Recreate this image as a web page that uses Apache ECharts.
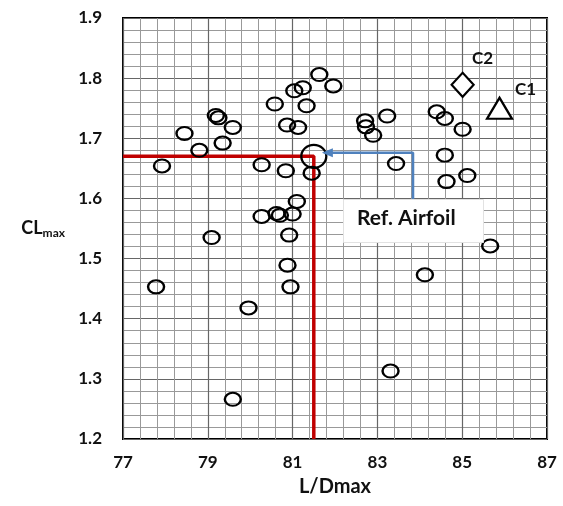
<!DOCTYPE html>
<html>
<head>
<meta charset="utf-8">
<script src="https://cdn.jsdelivr.net/npm/echarts@6/dist/echarts.min.js"></script>
<style>
  html, body { margin: 0; padding: 0; background: #fff; }
  #chart { width: 563px; height: 506px; }
</style>
</head>
<body>
<div id="chart"></div>
<script>
// airfoil candidates (L/Dmax, CLmax)
const ldVals = [77.92, 77.78, 78.45, 78.80, 79.19, 79.25, 79.59, 79.35, 79.09, 79.96, 79.59,
  80.27, 80.58, 80.84, 80.87, 81.13, 81.04, 81.24, 81.33, 81.63, 81.96, 81.45, 81.10,
  80.27, 80.62, 80.70, 81.00, 80.92, 80.88, 80.95,
  82.71, 82.73, 82.90, 83.23, 83.44, 84.40, 84.59, 85.01, 84.59, 84.63, 85.12, 85.66, 84.12, 83.31];
const clVals = [1.654, 1.453, 1.708, 1.680, 1.738, 1.734, 1.718, 1.692, 1.535, 1.418, 1.266,
  1.656, 1.757, 1.646, 1.722, 1.718, 1.779, 1.784, 1.754, 1.806, 1.787, 1.642, 1.595,
  1.570, 1.575, 1.572, 1.574, 1.539, 1.489, 1.453,
  1.729, 1.719, 1.705, 1.737, 1.658, 1.744, 1.733, 1.715, 1.672, 1.628, 1.638, 1.521, 1.473, 1.313];
const refPoint = [81.5, 1.67];
const c1Point = [85.88, 1.750];
const c2Point = [85.01, 1.789];
const refLine = [[77, 1.67], [81.5, 1.67], [81.5, 1.2]];
const arrowPath = [[83.84, 1.599], [83.84, 1.676], [81.9, 1.676]];

const font = 'Lato, "Open Sans", sans-serif';
const txt = '#111';
const chart = echarts.init(document.getElementById('chart'));
chart.setOption({
  animation: false,
  grid: { left: 123, right: 16, top: 18, bottom: 67, show: true, borderColor: '#000', borderWidth: 2 },
  xAxis: {
    type: 'value', min: 77, max: 87, interval: 2,
    name: 'L/Dmax', nameLocation: 'middle', nameGap: 38,
    nameTextStyle: { fontFamily: font, fontWeight: 'bold', fontSize: 20, color: txt },
    axisLine: { show: false }, axisTick: { show: false },
    axisLabel: { fontFamily: font, fontWeight: 'bold', fontSize: 17, color: txt, margin: 15 },
    splitLine: { lineStyle: { color: '#666', width: 1.2 } },
    minorTick: { show: false, splitNumber: 5 },
    minorSplitLine: { show: true, lineStyle: { color: '#999', width: 1 } }
  },
  yAxis: {
    type: 'value', min: 1.2, max: 1.9, interval: 0.1,
    name: '{a|CL}{b|max}', nameLocation: 'middle', nameGap: 58, nameRotate: 0,
    nameTextStyle: {
      rich: {
        a: { fontFamily: font, fontWeight: 'bold', fontSize: 18, color: txt },
        b: { fontFamily: font, fontWeight: 'bold', fontSize: 12, color: txt, padding: [9, 0, 0, 0] }
      }
    },
    axisLine: { show: false }, axisTick: { show: false },
    axisLabel: { fontFamily: font, fontWeight: 'bold', fontSize: 17, color: txt, margin: 21,
      formatter: v => v.toFixed(1) },
    splitLine: { lineStyle: { color: '#666', width: 1.2 } },
    minorTick: { show: false, splitNumber: 5 },
    minorSplitLine: { show: true, lineStyle: { color: '#999', width: 1 } }
  },
  series: [
    {
      type: 'line', data: refLine, symbol: 'none', z: 3,
      lineStyle: { color: '#C00000', width: 3.5 }
    },
    {
      type: 'line', data: arrowPath, symbol: 'none', z: 3,
      lineStyle: { color: '#4F81BD', width: 2.5 },
      markPoint: {
        symbol: 'triangle', symbolSize: [9, 11], symbolRotate: 90, silent: true,
        itemStyle: { color: '#4F81BD' },
        data: [{ coord: [81.82, 1.676] }]
      }
    },
    {
      type: 'scatter', z: 4,
      data: ldVals.map((x, i) => [x, clVals[i]]),
      symbol: 'circle', symbolSize: [16, 13],
      itemStyle: { color: 'rgba(0,0,0,0)', borderColor: '#000', borderWidth: 2.2, opacity: 1 }
    },
    {
      type: 'scatter', z: 4, data: [refPoint],
      symbol: 'circle', symbolSize: [25, 23],
      itemStyle: { color: 'rgba(0,0,0,0)', borderColor: '#000', borderWidth: 2.2, opacity: 1 }
    },
    {
      type: 'scatter', z: 4, data: [c2Point],
      symbol: 'diamond', symbolSize: [22, 24],
      itemStyle: { color: '#fff', borderColor: '#000', borderWidth: 2.2, opacity: 1 },
      label: { show: true, formatter: 'C2', position: 'inside', offset: [20, -26],
        fontFamily: font, fontWeight: 'bold', fontSize: 17, color: txt }
    },
    {
      type: 'scatter', z: 4, data: [c1Point],
      symbol: 'triangle', symbolSize: [25, 21],
      itemStyle: { color: '#fff', borderColor: '#000', borderWidth: 2.2, opacity: 1 },
      label: { show: true, formatter: 'C1', position: 'inside', offset: [26, -19],
        fontFamily: font, fontWeight: 'bold', fontSize: 17, color: txt }
    }
  ],
  graphic: [
    {
      type: 'rect', left: 343, top: 199, z: 10,
      shape: { width: 140, height: 43 },
      style: { fill: '#fff', stroke: '#e2e2e2', lineWidth: 1 }
    },
    {
      type: 'text', left: 357, top: 208, z: 11,
      style: { text: 'Ref. Airfoil', fontFamily: font, fontWeight: 'bold', fontSize: 21, fill: txt }
    }
  ]
});
</script>
</body>
</html>
